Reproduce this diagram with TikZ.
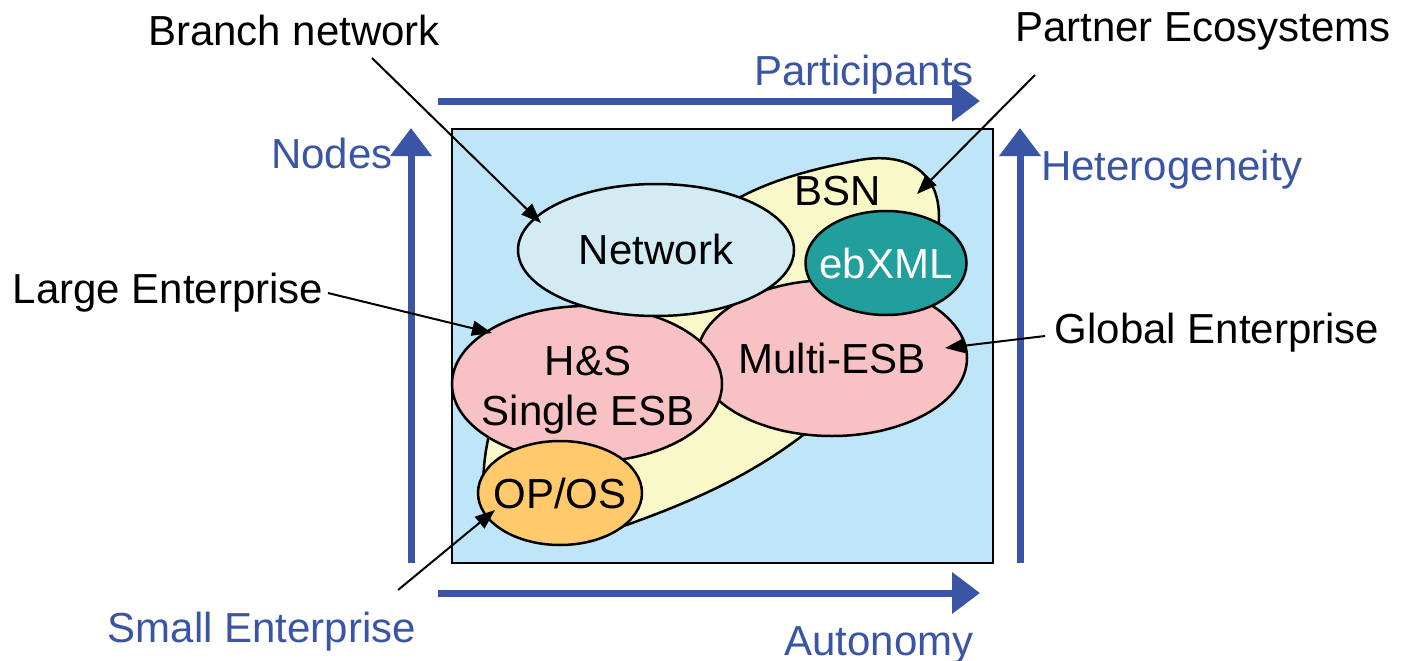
\documentclass[tikz,border=0pt]{standalone}
\usepackage{fontspec}
\setmainfont{Liberation Sans}
\usetikzlibrary{shapes.geometric,arrows.meta}
\definecolor{boxblue}{HTML}{BEE6F8}
\definecolor{netblue}{HTML}{D3ECF4}
\definecolor{esbpink}{HTML}{F8C2C4}
\definecolor{ebteal}{HTML}{219F9C}
\definecolor{oporange}{HTML}{FFC96C}
\definecolor{bsnyellow}{HTML}{F8F8C8}
\definecolor{axisblue}{HTML}{3A55A5}
\begin{document}
\begin{tikzpicture}[x=1pt,y=-1pt,
  font=\fontsize{42}{50}\selectfont,
  ell/.style={ellipse, draw=black, line width=2.5pt, inner sep=0pt},
  axisarrow/.style={draw=axisblue, line width=7pt, -{Triangle[length=28pt,width=40pt]}},
  ann/.style={draw=black, line width=2pt, -{Triangle[length=20pt,width=15pt]}},
  lbl/.style={anchor=base, inner sep=0pt},
  bluelbl/.style={lbl, text=axisblue}]
\useasboundingbox (0,0) rectangle (1411,661);
% frame
\node[draw=black, fill=boxblue, line width=2.5pt, minimum width=541pt, minimum height=434pt, inner sep=0pt] (frame) at (722.5,346) {};
% BSN blob
\path[fill=bsnyellow, draw=black, line width=2.5pt]
  (612,530) .. controls (700,500) and (760,470) .. (812,428)
  -- (900,300) -- (938,232)
  .. controls (946,170) and (905,152) .. (860,160)
  .. controls (805,170) and (765,183) .. (735,200)
  -- (560,330) -- (500,400)
  .. controls (488,430) and (481,465) .. (484,500) -- cycle;
% ellipses
\node[ell, fill=esbpink, minimum width=270pt, minimum height=156pt] (multi) at (832,358) {};
\node[ell, fill=esbpink, minimum width=270pt, minimum height=156pt] (hs) at (587,384) {};
\node[ell, fill=netblue, minimum width=276pt, minimum height=132pt] (net) at (656,250) {};
\node[ell, fill=ebteal, minimum width=161pt, minimum height=104pt] (ebxml) at (886,263) {};
\node[ell, fill=oporange, minimum width=164pt, minimum height=104pt] (opos) at (560,493) {};
% texts in shapes
\node[lbl] (bsnt) at (838,205) {BSN};
\node[lbl] (nett) at (656,264) {Network};
\node[lbl, text=white] (ebt) at (886,278) {ebXML};
\node[lbl] (multit) at (832,373) {Multi-ESB};
\node[lbl] (hst1) at (588,375) {H\&S};
\node[lbl] (hst2) at (588,425) {Single ESB};
\node[lbl] (opt) at (560,508) {OP/OS};
% axes
\coordinate (pA) at (438,101); \coordinate (pB) at (980,101);
\coordinate (aA) at (438,593); \coordinate (aB) at (980,593);
\coordinate (nA) at (411,563); \coordinate (nB) at (411,128);
\coordinate (hA) at (1020,563); \coordinate (hB) at (1020,128);
\draw[axisarrow] (pA) -- (pB);
\draw[axisarrow] (aA) -- (aB);
\draw[axisarrow] (nA) -- (nB);
\draw[axisarrow] (hA) -- (hB);
% axis labels
\node[bluelbl] (partl) at (864,85) {Participants};
\node[bluelbl] (autl) at (879,655) {Autonomy};
\node[bluelbl] (nodl) at (332,168) {Nodes};
\node[bluelbl] (hetl) at (1172,180) {Heterogeneity};
\node[bluelbl] (sel) at (262,642) {Small Enterprise};
% black labels
\node[lbl] (bnl) at (294,46) {Branch network};
\node[lbl] (pel) at (1203,42) {Partner Ecosystems};
\node[lbl] (lel) at (168,303) {Large Enterprise};
\node[lbl] (gel) at (1217,343) {Global Enterprise};
% annotation arrows
\coordinate (bnS) at (372,58);
\coordinate (peS) at (1035,75);
\coordinate (leS) at (328,293);
\coordinate (geS) at (1045,336);
\coordinate (seS) at (398,590);
\draw[ann] (bnS) -- ([shift={(-115,-27)}]net.center);
\draw[ann] (peS) -- ([shift={(79,-11)}]bsnt.base);
\draw[ann] (leS) -- ([shift={(-95,-51)}]hs.center);
\draw[ann] (geS) -- ([shift={(113,-10)}]multi.center);
\draw[ann] (seS) -- ([shift={(-65,17)}]opos.center);
\end{tikzpicture}
\end{document}
